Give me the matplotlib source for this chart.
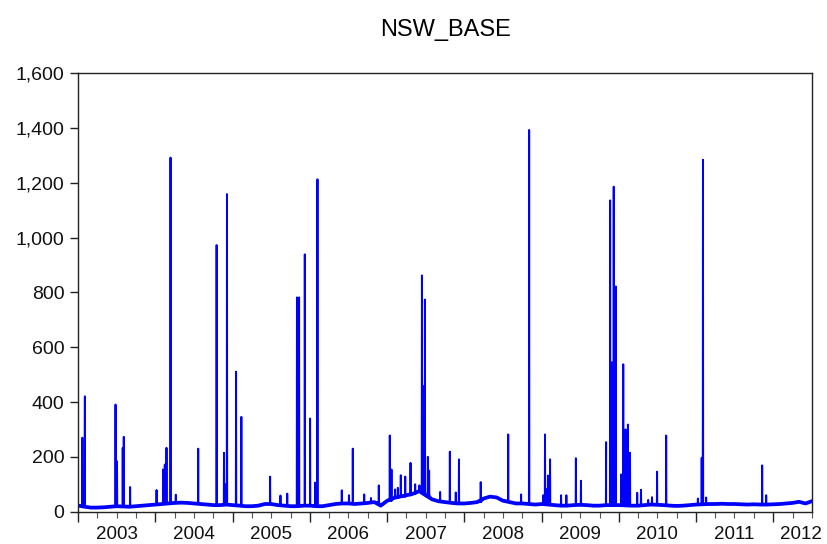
import pandas as pd
import numpy as np
import matplotlib.pyplot as plt
import matplotlib.dates as mdates
from matplotlib.ticker import FuncFormatter, MultipleLocator

plt.rcParams['font.family'] = ['Liberation Sans', 'DejaVu Sans']

# monthly base level (first of each month, 2003-01 .. 2012-06) plus the last day
base_values = [
    22, 18, 15, 15, 16, 18, 20, 19, 18, 20, 22, 24,   # 2003
    26, 28, 30, 32, 33, 32, 30, 28, 26, 24, 24, 26,   # 2004
    24, 22, 20, 20, 22, 28, 28, 24, 22, 20, 20, 22,   # 2005
    22, 20, 20, 24, 28, 30, 30, 28, 30, 32, 35, 22,   # 2006
    40, 50, 55, 60, 65, 75, 60, 45, 38, 35, 32, 30,   # 2007
    30, 32, 35, 48, 55, 52, 40, 35, 30, 30, 28, 26,   # 2008
    28, 26, 24, 22, 22, 24, 25, 24, 22, 22, 24, 24,   # 2009
    24, 23, 22, 22, 24, 26, 25, 24, 22, 21, 22, 24,   # 2010
    26, 27, 28, 28, 29, 28, 28, 27, 26, 27, 26, 26,   # 2011
    27, 28, 30, 32, 36, 30,                           # 2012
    38,
]

# price spikes
spike_dates = [
    '2003-01-20', '2003-02-01', '2003-06-26', '2003-07-03', '2003-07-30', '2003-08-04',
    '2003-09-03', '2004-01-06', '2004-02-06', '2004-02-14', '2004-02-22', '2004-03-12',
    '2004-04-06', '2004-07-21', '2004-10-16', '2004-11-20', '2004-11-28', '2004-12-04',
    '2005-01-16', '2005-02-10', '2005-06-26', '2005-08-14', '2005-09-15', '2005-10-31',
    '2005-11-10', '2005-12-07', '2006-01-01', '2006-01-25', '2006-02-05', '2006-05-31',
    '2006-07-04', '2006-07-22', '2006-09-14', '2006-10-16', '2006-11-22', '2007-01-13',
    '2007-01-21', '2007-02-07', '2007-02-20', '2007-03-06', '2007-03-27', '2007-04-21',
    '2007-05-13', '2007-06-02', '2007-06-14', '2007-06-21', '2007-06-28', '2007-07-12',
    '2007-07-18', '2007-09-08', '2007-10-24', '2007-11-21', '2007-12-06', '2008-03-18',
    '2008-07-26', '2008-09-25', '2008-11-02', '2009-01-07', '2009-01-16', '2009-01-24',
    '2009-01-30', '2009-02-09', '2009-04-02', '2009-04-27', '2009-06-11', '2009-07-05',
    '2009-11-01', '2009-11-20', '2009-11-28', '2009-12-07', '2009-12-17', '2010-01-11',
    '2010-01-21', '2010-02-01', '2010-02-12', '2010-02-22', '2010-03-28', '2010-04-15',
    '2010-05-19', '2010-06-06', '2010-06-30', '2010-08-12', '2011-01-09', '2011-01-27',
    '2011-02-02', '2011-02-17', '2011-11-09', '2011-11-28',
]
spike_values = [
    270, 421, 391, 184, 233, 273,
    90, 79, 154, 172, 233, 1292,
    62, 230, 973, 215, 100, 1159,
    511, 346, 128, 59, 66, 782,
    782, 939, 340, 106, 1213, 78,
    60, 230, 63, 50, 96, 278,
    154, 81, 87, 133, 128, 178,
    100, 96, 862, 458, 774, 200,
    150, 72, 219, 70, 191, 108,
    282, 63, 1393, 60, 282, 82,
    132, 191, 60, 60, 195, 113,
    254, 1136, 545, 1186, 822, 136,
    538, 300, 318, 215, 69, 80,
    43, 53, 146, 278, 48, 197,
    1284, 52, 169, 60,
]

year_labels = [str(y) for y in range(2003, 2013)]

# build the plotted series
base_dates = list(pd.date_range('2003-01-01', '2012-06-01', freq='MS')) + [pd.Timestamp('2012-06-30')]
base = pd.Series(base_values, index=base_dates)
pts = list(zip(base_dates, base_values))
one_day = pd.Timedelta(days=1)
for d, v in zip(spike_dates, spike_values):
    d = pd.Timestamp(d)
    b = base[base.index <= d].iloc[-1]
    pts += [(d - one_day, b), (d, v), (d + one_day, b)]
s = pd.DataFrame(pts, columns=['date', 'value']).sort_values('date')

fig = plt.figure(figsize=(8.27, 5.44), dpi=100)
ax = fig.add_axes([0.0947, 0.0594, 0.887, 0.806])
# thick base band, then the full series with spikes on top
ax.plot(base.index, base.values, color='#0000ff', lw=2.7, solid_joinstyle='round')
ax.plot(s['date'], s['value'], color='#0000ff', lw=1.4)

ax.set_xlim(pd.Timestamp('2003-01-01'), pd.Timestamp('2012-07-01'))
ax.set_ylim(0, 1600)
ax.yaxis.set_major_locator(MultipleLocator(200))
ax.yaxis.set_major_formatter(FuncFormatter(lambda v, p: f'{int(v):,}'))

ax.xaxis.set_major_locator(mdates.YearLocator())
ax.xaxis.set_minor_locator(mdates.MonthLocator(bymonth=[4, 7, 10]))
ax.xaxis.set_major_formatter(plt.NullFormatter())
ax.tick_params(axis='x', which='major', direction='out', length=7.5, width=1, colors='#222222')
ax.tick_params(axis='x', which='minor', direction='out', length=4, width=0.8, colors='#555555')
ax.tick_params(axis='y', direction='out', length=6, width=1, labelsize=14, pad=4, colors='#222222')
ax.tick_params(axis='y', labelcolor='#111111')

# year labels sit in the middle of each year
for lab in year_labels:
    y = int(lab)
    xpos = pd.Timestamp(y, 7, 1) if y < 2012 else pd.Timestamp(2012, 5, 12)
    ax.text(xpos, -0.062, lab, transform=ax.get_xaxis_transform(),
            ha='center', va='baseline', fontsize=13.5, color='#111111')

for sp in ax.spines.values():
    sp.set_color('#222222')
    sp.set_linewidth(1)

ax.set_title('NSW_BASE', fontsize=17, pad=27)

fig.savefig('out.png', dpi=100)
